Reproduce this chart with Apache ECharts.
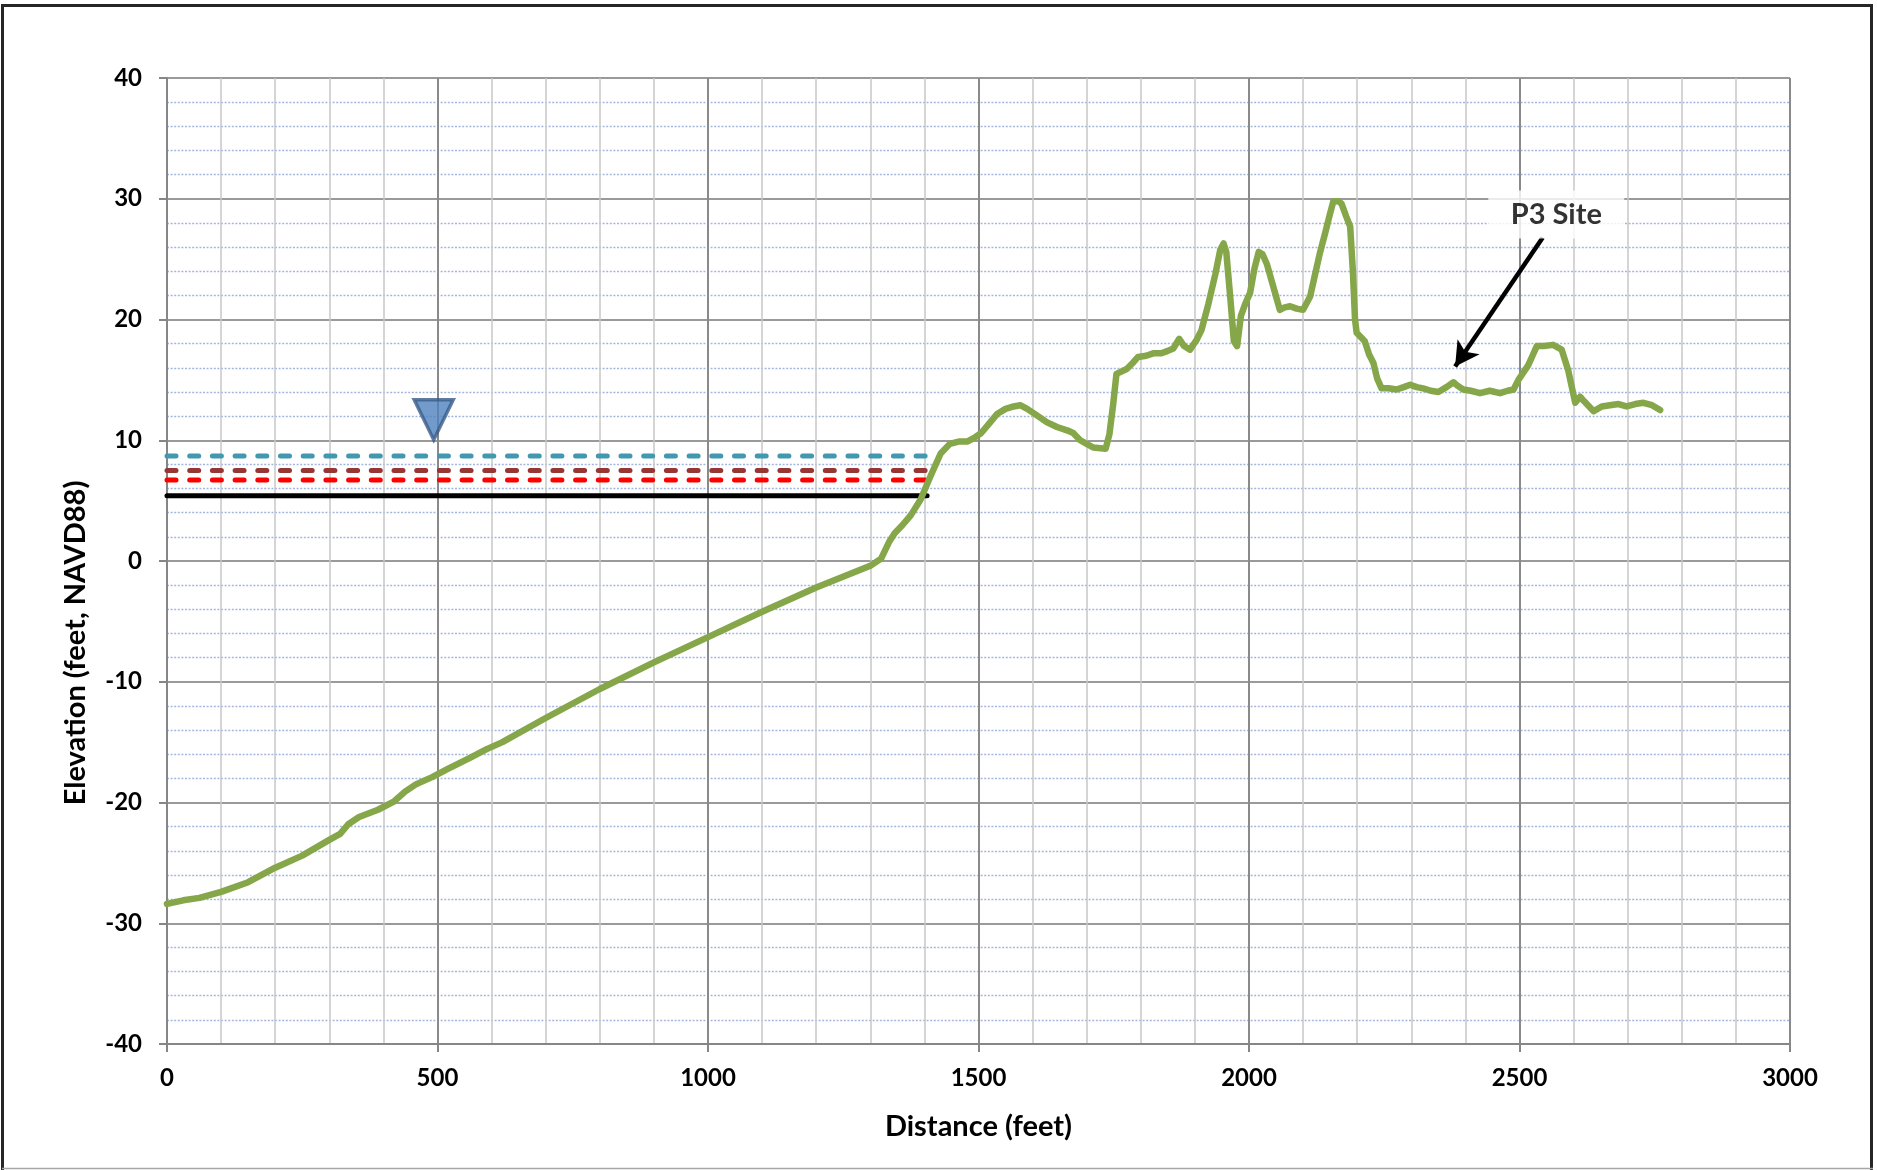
<!DOCTYPE html>
<html>
<head>
<meta charset="utf-8">
<script src="https://cdn.jsdelivr.net/npm/echarts@6/dist/echarts.min.js"></script>
<style>
  html, body { margin: 0; padding: 0; background: #fff; }
  #chart { width: 1877px; height: 1170px; }
</style>
</head>
<body>
<div id="chart"></div>
<script>
// Ground profile along the transect: distance (feet) and elevation (feet, NAVD88)
const distance = [
  0, 30, 60, 100, 150, 200, 250, 300, 320, 335, 355, 390, 420, 440, 460, 490, 520, 560, 590, 620,
  700, 800, 900, 1000, 1100, 1200, 1300, 1320, 1335, 1345, 1360, 1375, 1393, 1411, 1430, 1447,
  1465, 1480, 1492, 1505, 1520, 1535, 1550, 1565, 1577, 1590, 1610, 1626, 1645, 1665, 1675, 1688,
  1700, 1712, 1735, 1742, 1749, 1755, 1774, 1785, 1795, 1810, 1823, 1838, 1850, 1860, 1871, 1880,
  1891, 1903, 1912, 1925, 1938, 1947, 1953, 1958, 1966, 1972, 1978, 1985, 1993, 2002, 2010, 2018,
  2025, 2033, 2045, 2057, 2066, 2076, 2088, 2100, 2113, 2122, 2131, 2141, 2150, 2156, 2165, 2171,
  2180, 2187, 2192, 2196, 2199, 2214, 2222, 2230, 2237, 2245, 2258, 2273, 2286, 2298, 2310, 2322,
  2336, 2350, 2365, 2378, 2386, 2396, 2410, 2427, 2445, 2464, 2478, 2489, 2498, 2516, 2524, 2532,
  2545, 2562, 2578, 2590, 2603, 2612, 2620, 2637, 2652, 2667, 2683, 2698, 2714, 2729, 2745, 2760
];
const elevation = [
  -28.4, -28.1, -27.9, -27.4, -26.6, -25.4, -24.4, -23.1, -22.6, -21.8, -21.2, -20.6, -19.9, -19.1, -18.5, -17.9, -17.2, -16.3, -15.6, -15.0,
  -13.0, -10.6, -8.4, -6.3, -4.2, -2.2, -0.4, 0.2, 1.6, 2.3, 3.0, 3.8, 5.1, 7.0, 8.9, 9.7,
  9.9, 9.9, 10.2, 10.6, 11.4, 12.2, 12.6, 12.8, 12.9, 12.6, 12.0, 11.5, 11.1, 10.8, 10.6, 10.0,
  9.7, 9.4, 9.3, 10.5, 13.0, 15.5, 15.9, 16.4, 16.9, 17.0, 17.2, 17.2, 17.4, 17.6, 18.4, 17.8,
  17.5, 18.3, 19.1, 21.3, 23.8, 25.8, 26.3, 25.6, 21.5, 18.2, 17.8, 20.3, 21.3, 22.2, 24.2, 25.6,
  25.4, 24.6, 22.7, 20.8, 21.0, 21.1, 20.9, 20.8, 21.9, 23.7, 25.5, 27.2, 28.8, 29.8, 29.8, 29.6,
  28.5, 27.7, 24.0, 20.0, 18.9, 18.2, 17.1, 16.4, 15.1, 14.3, 14.3, 14.2, 14.4, 14.6, 14.4, 14.3,
  14.1, 14.0, 14.4, 14.8, 14.5, 14.2, 14.1, 13.9, 14.1, 13.9, 14.1, 14.2, 15.0, 16.2, 17.0, 17.8,
  17.8, 17.9, 17.5, 15.8, 13.1, 13.6, 13.2, 12.4, 12.8, 12.9, 13.0, 12.8, 13.0, 13.1, 12.9, 12.5
];

// Still-water levels (feet, NAVD88) and where each meets the shore (feet)
const waterLevels = [8.7, 7.5, 6.7, 5.4];
const waterLevelEnds = [1425, 1416, 1410, 1405];

// Water-surface marker
const markerX = [493];
const markerY = [11.7];

// Site callout: label anchor and arrow from/to (distance, elevation)
const siteLabel = 'P3 Site';
const siteLabelAt = [2568, 28.7];
const arrowFrom = [2543, 26.8];
const arrowTo = [2381, 16.1];

// Axis settings
const xMin = 0, xMax = 3000, xStep = 500;
const yMin = -40, yMax = 40, yStep = 10;

const FONT = 'Lato, "Open Sans", "Liberation Sans", sans-serif';
const levelStyles = [
  { color: '#4198AF', type: [9, 13.7], cap: 'round' },
  { color: '#963735', type: [9, 13.7], cap: 'round' },
  { color: '#FF0000', type: [9, 13.7], cap: 'round' },
  { color: '#000000', type: 'solid', cap: 'round' }
];

const chart = echarts.init(document.getElementById('chart'), null, { renderer: 'canvas' });

const levelSeries = waterLevels.map((v, i) => ({
  type: 'line',
  data: [[xMin, v], [waterLevelEnds[i], v]],
  symbol: 'none',
  silent: true,
  z: 3,
  lineStyle: { width: 5, color: levelStyles[i].color, type: levelStyles[i].type, cap: levelStyles[i].cap }
}));

const plainNumber = (v) => String(v);

const option = {
  animation: false,
  backgroundColor: '#fff',
  grid: { left: 167, top: 78, width: 1623, height: 966, containLabel: false },
  xAxis: {
    type: 'value', min: xMin, max: xMax, interval: xStep,
    name: 'Distance (feet)', nameLocation: 'middle', nameGap: 68,
    nameTextStyle: { fontFamily: FONT, fontWeight: 'bold', fontSize: 29, color: '#000' },
    axisLine: { show: true, onZero: false, lineStyle: { color: '#868686', width: 2 } },
    axisTick: { show: true, length: 8, lineStyle: { color: '#868686', width: 2 } },
    axisLabel: { margin: 22, formatter: plainNumber, fontFamily: FONT, fontWeight: 'bold', fontSize: 24, color: '#000' },
    splitLine: { show: true, lineStyle: { color: '#8A8A8A', width: 2 } },
    minorTick: { show: false, splitNumber: 5 },
    minorSplitLine: { show: true, lineStyle: { color: '#C8C8C8', width: 1.5 } }
  },
  yAxis: {
    type: 'value', min: yMin, max: yMax, interval: yStep,
    axisLine: { show: true, onZero: false, lineStyle: { color: '#868686', width: 2 } },
    axisTick: { show: true, length: 8, lineStyle: { color: '#868686', width: 2 } },
    axisLabel: { margin: 25, formatter: plainNumber, fontFamily: FONT, fontWeight: 'bold', fontSize: 24, color: '#000' },
    splitLine: { show: true, lineStyle: { color: '#9A9A9A', width: 2 } },
    minorTick: { show: false, splitNumber: 5 },
    minorSplitLine: { show: true, lineStyle: { color: '#A3B6DD', width: 1.3, type: [2, 1.6] } }
  },
  graphic: [
    {
      type: 'rect', silent: true, z: 100,
      shape: { x: 2.5, y: 5.5, width: 1869, height: 1180 },
      style: { fill: 'none', stroke: '#262626', lineWidth: 3 }
    },
    {
      type: 'line', silent: true, z: 100,
      shape: { x1: 2, y1: 1168.5, x2: 1873, y2: 1168.5 },
      style: { stroke: '#A6A6A6', lineWidth: 1.5 }
    },
    {
      type: 'text', silent: true, z: 100,
      x: 76, y: 643, rotation: Math.PI / 2,
      style: {
        text: 'Elevation (feet, NAVD88)',
        fontFamily: FONT, fontWeight: 'bold', fontSize: 29, fill: '#000',
        align: 'center', verticalAlign: 'middle',
        textAlign: 'center', textVerticalAlign: 'middle'
      }
    }
  ],
  series: [
    ...levelSeries,
    {
      type: 'line',
      name: 'Ground',
      data: distance.map((d, i) => [d, elevation[i]]),
      symbol: 'none',
      silent: true,
      z: 5,
      lineStyle: { width: 6.5, color: '#86A64A', cap: 'round', join: 'round' }
    },
    {
      type: 'scatter',
      data: markerX.map((x, i) => [x, markerY[i]]),
      symbol: 'triangle',
      symbolRotate: 180,
      symbolSize: [39, 40],
      silent: true,
      z: 6,
      itemStyle: { color: '#4F81BD', borderColor: '#385D8A', borderWidth: 3.5 }
    },
    {
      type: 'scatter',
      data: [siteLabelAt],
      symbol: 'rect',
      symbolSize: [136, 48],
      silent: true,
      z: 7,
      itemStyle: { color: '#ffffff' },
      label: {
        show: true, position: 'inside', formatter: siteLabel,
        fontFamily: FONT, fontWeight: 'bold', fontSize: 29, color: '#000'
      },
      markLine: {
        silent: true,
        symbol: ['none', 'arrow'],
        symbolSize: [20, 24],
        label: { show: false },
        emphasis: { disabled: true },
        lineStyle: { color: '#000', width: 4.5, type: 'solid' },
        data: [[{ coord: arrowFrom }, { coord: arrowTo }]]
      }
    }
  ]
};

chart.setOption(option);
</script>
</body>
</html>
